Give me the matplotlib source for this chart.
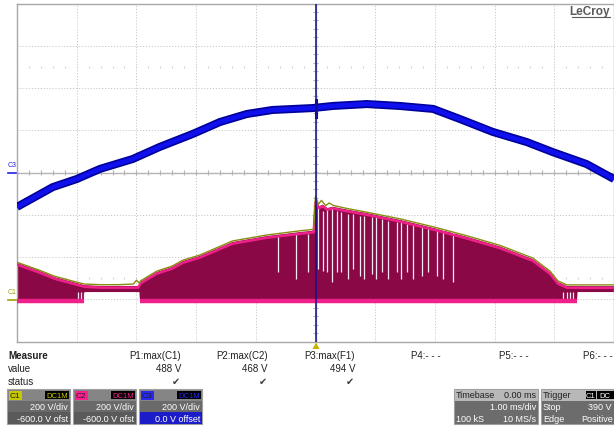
import numpy as np
import matplotlib.pyplot as plt
from matplotlib.patches import Rectangle, Polygon

plt.rcParams['font.family'] = ['Liberation Sans', 'DejaVu Sans']

# scope settings (all channels 200 V/div, 1 ms/div)
VDIV = 200.0
C12_OFFSET = -600.0
C3_OFFSET = 0.0

# C3 (blue) trace: time in ms, volts
c3_t = [-5.0, -4.4, -4.0, -3.61, -3.06, -2.61, -2.06, -1.6, -1.15, -0.72, -0.05,
        0.29, 0.86, 1.41, 1.97, 2.42, 2.97, 3.54, 3.97, 4.54, 5.0]
c3_v = [-163, -69, -31, 17, 64, 121, 182, 239, 277, 296, 305,
        315, 324, 315, 301, 253, 192, 144, 97, 40, -31]

# C3 spike at the trigger point
spike_t = [0.0, 0.0]
spike_v = [-900, 900]
burst_t = [0.0, 0.0]
burst_v = [265, 345]

# C2 (pink) upper envelope
c2_t = [-5.0, -4.62, -4.37, -4.0, -3.87, -3.6, -3.3, -2.97, -2.93, -2.66, -2.41,
        -2.22, -1.94, -1.39, -0.82, -0.26, -0.03, 0.0, 0.06, 0.12, 0.2, 0.29,
        0.52, 0.86, 1.41, 1.97, 2.53, 3.09, 3.64, 3.93, 4.06, 4.21, 4.5, 5.0]
c2_v = [172, 134, 105, 77, 67, 63, 63, 63, 83, 129, 152,
        181, 205, 271, 299, 318, 325, 468, 440, 448, 432, 438,
        425, 408, 376, 338, 296, 250, 190, 128, 82, 63, 62, 62]

# C2 lower edge (switching low level / idle ripple)
c2_low_t = [-5.0, -3.87, -3.86, -2.95, -2.94, 4.38, 4.39, 5.0]
c2_low_v = [-8, -8, 34, 34, -8, -8, 34, 34]

# C1 (olive) top edge
c1_t = [-5.0, -4.62, -4.37, -4.0, -3.87, -3.6, -3.3, -3.05, -3.0, -2.95, -2.93, -2.66,
        -2.41, -2.22, -1.94, -1.39, -0.82, -0.26, -0.03, 0.0, 0.05, 0.1, 0.17,
        0.23, 0.3, 0.52, 0.86, 1.41, 1.97, 2.53, 3.09, 3.64, 3.93, 4.06, 4.21, 4.5, 5.0]
c1_v = [175, 137, 109, 81, 72, 69, 69, 72, 90, 76, 87, 133,
        156, 185, 209, 276, 304, 324, 331, 488, 450, 468, 443,
        456, 444, 430, 412, 381, 343, 301, 255, 195, 133, 87, 68, 68, 68]

# gaps in the PWM burst (time ms, top V, bottom V)
gap_t = [-3.97, -3.93, -3.87, -0.63, -0.33, -0.13, 0.037, 0.12, 0.19, 0.27, 0.36,
         0.42, 0.54, 0.62, 0.74, 0.82, 0.94, 1.02, 1.12, 1.22, 1.36, 1.44, 1.53,
         1.63, 1.78, 1.88, 2.03, 2.13, 2.30, 4.14, 4.21, 4.26, 4.31]
gap_top = [34, 34, 34, 299, 309, 309, 435, 419, 427, 435, 419,
           411, 403, 403, 395, 395, 388, 388, 380, 372, 364, 364, 356,
           356, 348, 340, 333, 333, 325, 34, 34, 34, 34]
gap_bot = [-13, -13, -13, 129, 96, 129, 143, 135, 127, 80, 127,
           127, 96, 143, 111, 96, 120, 96, 127, 96, 127, 96, 127,
           96, 111, 127, 111, 96, 80, -13, -13, -13, -13]


def c12_div(v):
    return (np.asarray(v, dtype=float) + C12_OFFSET) / VDIV


def c3_div(v):
    return (np.asarray(v, dtype=float) + C3_OFFSET) / VDIV


fig = plt.figure(figsize=(6.14, 4.27), dpi=100)
fig.patch.set_facecolor('white')

W, H = 614.0, 427.0
ax = fig.add_axes([17 / W, (H - 342.5) / H, 597 / W, 338 / H])
ax.set_xlim(-5, 5)
ax.set_ylim(-4, 4)
ax.set_xticks([])
ax.set_yticks([])
for s in ax.spines.values():
    s.set_color('#a8a8a8')
    s.set_linewidth(1.0)

# grid
for gx in range(-4, 5):
    if gx != 0:
        ax.axvline(gx, color='#c8c8c8', lw=0.7, ls=(0, (1.2, 1.8)), zorder=0)
for gy in range(-3, 4):
    if gy != 0:
        ax.axhline(gy, color='#c8c8c8', lw=0.7, ls=(0, (1.2, 1.8)), zorder=0)
ax.axhline(0, color='#b4b4b4', lw=1.0, zorder=0)
ax.axvline(0, color='#b4b4b4', lw=1.0, zorder=0)
minor_x = np.arange(-5, 5.01, 0.2)
minor_y = np.arange(-4, 4.01, 0.2)
ax.vlines(minor_x, -0.06, 0.06, color='#b4b4b4', lw=0.8, zorder=0)
ax.hlines(minor_y, -0.05, 0.05, color='#b4b4b4', lw=0.8, zorder=0)
for ry in (2.5, -2.5):
    ax.vlines(minor_x, ry - 0.03, ry + 0.03, color='#d4d4d4', lw=0.8, zorder=0)

# C2 filled burst
poly_x = np.r_[c2_t, c2_low_t[::-1]]
poly_y = np.r_[c12_div(c2_v), c12_div(c2_low_v)[::-1]]
ax.add_patch(Polygon(np.c_[poly_x, poly_y], closed=True, fc='#8a0846', ec='none', zorder=2))

# gaps
ax.vlines(gap_t, c12_div(gap_bot), c12_div(gap_top), color='#f8eaf2', lw=0.9, zorder=3)

# bottom pink band on active parts
low_v = np.array(c2_low_v, dtype=float)
low_band = np.where(low_v < 0, low_v, np.nan)
ax.plot(c2_low_t, c12_div(low_band), color='#f0208a', lw=3.2, solid_capstyle='butt', zorder=3)

# top edges
ax.plot(c2_t, c12_div(c2_v) - 0.04, color='#f0208a', lw=1.8, zorder=4)
ax.plot(c1_t, c12_div(c1_v), color='#8a8a12', lw=1.0, zorder=5)

# C3 blue band
ax.plot(c3_t, c3_div(c3_v), color='#00009a', lw=5.8, solid_capstyle='butt', zorder=6)
ax.plot(c3_t, c3_div(c3_v), color='#1010ee', lw=3.4, solid_capstyle='butt', zorder=7)
ax.plot(spike_t, c3_div(spike_v), color='#101090', lw=1.1, zorder=8)
ax.plot(burst_t, c3_div(burst_v), color='#101090', lw=2.2, zorder=8)

# overlay for labels and panel
ov = fig.add_axes([0, 0, 1, 1], zorder=10)
ov.set_xlim(0, W)
ov.set_ylim(H, 0)
ov.axis('off')
ov.patch.set_alpha(0)

ov.text(610, 12, 'LeCroy', ha='right', va='center', fontsize=8.5, color='#5a5a5a',
        fontweight='bold')
ov.plot([572, 610], [18, 18], color='#5a5a5a', lw=0.8)

ov.text(12, 169, 'C3', ha='center', va='bottom', fontsize=5, color='#2020e0')
ov.plot([8, 16], [173.5, 173.5], color='#2020e0', lw=1.2)
ov.text(12, 296, 'C1', ha='center', va='bottom', fontsize=5, color='#a0a000')
ov.plot([8, 16], [300.5, 300.5], color='#a0a000', lw=1.2)

ov.add_patch(Polygon([[312.5, 350], [319.5, 350], [316, 343.5]], closed=True,
                     fc='#c8b400', ec='none'))

# measure table
fs = 7
ov.text(8, 356, 'Measure', fontsize=fs, fontweight='bold', va='center', color='#202020')
ov.text(8, 369, 'value', fontsize=fs, va='center', color='#202020')
ov.text(8, 382, 'status', fontsize=fs, va='center', color='#202020')
meas_names = ['P1:max(C1)', 'P2:max(C2)', 'P3:max(F1)', 'P4:- - -', 'P5:- - -', 'P6:- - -']
meas_vals = ['488 V', '468 V', '494 V', '', '', '']
meas_right = [181, 268, 355, 441, 529, 613]
for name, val, xr in zip(meas_names, meas_vals, meas_right):
    ov.text(xr, 356, name, fontsize=fs, ha='right', va='center', color='#202020')
    if val:
        ov.text(xr, 369, val, fontsize=fs, ha='right', va='center', color='#202020')
        ov.text(xr - 5, 382, '\u2714', fontsize=fs, ha='center', va='center',
                color='#404040', family='DejaVu Sans')


def chan_box(x0, w, label, col, line1, line2, body_col):
    ov.add_patch(Rectangle((x0, 390), w, 35, fc='#6a6a6a', ec='#a0a0a0', lw=0.8))
    ov.add_patch(Rectangle((x0 + 0.5, 390.5), w - 1, 11, fc='#858585', ec='none'))
    ov.add_patch(Rectangle((x0 + 0.5, 413), w - 1, 11.5, fc=body_col, ec='none'))
    ov.add_patch(Rectangle((x0 + 1.5, 391.5), 13, 9, fc=col, ec='none'))
    ov.text(x0 + 8, 396.3, label, fontsize=6, ha='center', va='center', color='#202020')
    ov.add_patch(Rectangle((x0 + w - 25, 392), 23.5, 8, fc='black', ec='none'))
    ov.text(x0 + w - 13.2, 396.3, 'DC1M', fontsize=5.5, ha='center', va='center', color=col)
    ov.text(x0 + w - 2, 407.5, line1, fontsize=6.5, ha='right', va='center', color='white')
    ov.text(x0 + w - 2, 419.5, line2, fontsize=6.5, ha='right', va='center', color='white')


chan_box(7, 63, 'C1', '#c8c800', '200 V/div', '-600.0 V ofst', '#5a5a5a')
chan_box(73, 63, 'C2', '#ff1f8f', '200 V/div', '-600.0 V ofst', '#5a5a5a')
chan_box(139, 63, 'C3', '#2828f0', '200 V/div', '0.0 V offset', '#1c1cc8')

# timebase box
ov.add_patch(Rectangle((454, 390), 84, 35, fc='#6c6c6c', ec='#a0a0a0', lw=0.8))
ov.add_patch(Rectangle((454.5, 390.5), 83, 11, fc='#b8b8b8', ec='none'))
ov.text(456, 396, 'Timebase', fontsize=6.5, va='center', color='#202020')
ov.text(536, 396, '0.00 ms', fontsize=6.5, ha='right', va='center', color='#202020')
ov.text(536, 407.5, '1.00 ms/div', fontsize=6.5, ha='right', va='center', color='white')
ov.text(456, 419.5, '100 kS', fontsize=6.5, va='center', color='white')
ov.text(536, 419.5, '10 MS/s', fontsize=6.5, ha='right', va='center', color='white')

# trigger box
ov.add_patch(Rectangle((541, 390), 80, 35, fc='#6c6c6c', ec='#a0a0a0', lw=0.8))
ov.add_patch(Rectangle((541.5, 390.5), 79, 11, fc='#b8b8b8', ec='none'))
ov.text(543, 396, 'Trigger', fontsize=6.5, va='center', color='#202020')
ov.add_patch(Rectangle((586, 392), 10, 8, fc='black', ec='none'))
ov.text(591, 396.3, 'C1', fontsize=5.5, ha='center', va='center', color='white')
ov.add_patch(Rectangle((597, 392), 17, 8, fc='black', ec='none'))
ov.text(599, 396.3, 'DC', fontsize=5.5, va='center', color='white')
ov.text(543, 407.5, 'Stop', fontsize=6.5, va='center', color='white')
ov.text(612, 407.5, '390 V', fontsize=6.5, ha='right', va='center', color='white')
ov.text(543, 419.5, 'Edge', fontsize=6.5, va='center', color='white')
ov.text(613, 419.5, 'Positive', fontsize=6.5, ha='right', va='center', color='white')

fig.savefig('out.png', dpi=100, facecolor='white')
